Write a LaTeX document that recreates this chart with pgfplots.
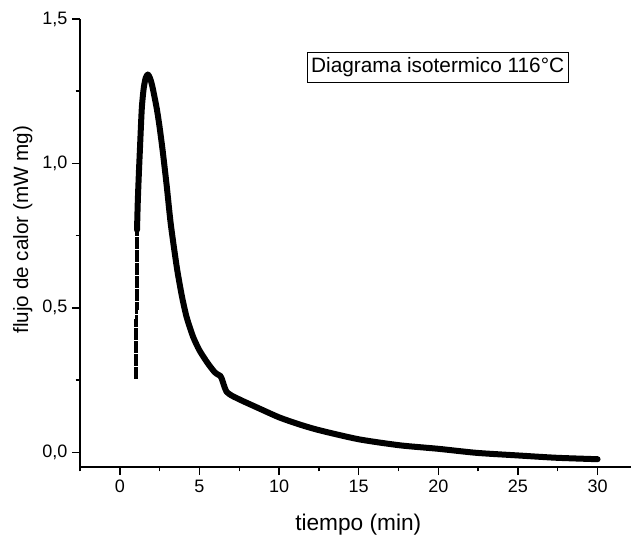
\documentclass[border=0pt]{standalone}
\usepackage{fontspec}
\setmainfont{Liberation Sans}
\usepackage{pgfplots}
\pgfplotsset{compat=1.18}
\begin{document}
\begin{tikzpicture}
\begin{axis}[
  scale only axis,
  width=413.25pt, height=336pt,
  xmin=-2.5, xmax=32.1, ymin=-0.051, ymax=1.5,
  axis lines=left,
  axis line style={-, line width=1.1pt},
  every tick/.style={black, line width=1.1pt},
  tick align=outside,
  major tick length=6pt, minor tick length=3.2pt,
  xtick={0,5,...,30},
  minor xtick={-2.5,2.5,...,32.5},
  ytick={0,0.5,1,1.5},
  yticklabels={0{,}0,0{,}5,1{,}0,1{,}5},
  minor ytick={0.25,0.75,1.25},
  /pgf/number format/assume math mode=true,
  tick label style={font=\fontsize{13.5}{16}\selectfont},
  xlabel={tiempo (min)},
  ylabel={flujo de calor (mW mg)},
  xlabel style={font=\fontsize{17}{20}\selectfont, at={(axis description cs:0.505,-0.128)}, anchor=center},
  ylabel style={font=\fontsize{15.5}{18}\selectfont, at={(axis description cs:-0.104,0.53)}, anchor=center},
  clip=false,
]
\coordinate (sw) at (rel axis cs:0,0);
\addplot[only marks, mark=square*, mark size=1.1pt, black] coordinates {
(1.000,0.260) (1.002,0.275) (1.005,0.290) (1.007,0.305) (1.009,0.320)
(1.012,0.335) (1.014,0.350) (1.016,0.365) (1.019,0.380) (1.021,0.395)
(1.024,0.410) (1.026,0.425) (1.028,0.440) (1.031,0.455) (1.033,0.470)
(1.035,0.485) (1.038,0.500) (1.040,0.515) (1.042,0.530) (1.045,0.545)
(1.047,0.560) (1.049,0.575) (1.052,0.590) (1.054,0.605) (1.057,0.620)
(1.059,0.635) (1.061,0.650) (1.064,0.665) (1.066,0.680) (1.068,0.695)
(1.071,0.710) (1.073,0.725) (1.075,0.740) (1.078,0.755) (1.080,0.770)
};
\addplot[black, line width=4.5pt, line join=round, line cap=round, smooth, tension=0.4] coordinates {
(1.08,0.77) (1.13,0.87) (1.2,0.97) (1.26,1.045) (1.38,1.19) (1.5,1.26)
(1.62,1.295) (1.76,1.308) (1.9,1.295) (2.05,1.265) (2.32,1.19) (2.5,1.125)
(2.7,1.04) (2.95,0.92) (3.2,0.79) (3.58,0.64) (3.9,0.54) (4.2,0.467)
(4.6,0.40) (5.0,0.353) (5.5,0.31) (5.96,0.277) (6.2,0.268) (6.3,0.265)
(6.4,0.255) (6.55,0.23) (6.7,0.21) (7.0,0.197) (7.7,0.178) (8.5,0.158)
(10.0,0.121) (11.3,0.096) (12.55,0.076) (15.0,0.045) (17.6,0.024)
(20.0,0.012) (22.4,-0.002) (25.0,-0.011) (27.4,-0.019) (30.0,-0.024)
};
\node[draw, line width=0.6pt, inner xsep=3pt, inner ysep=4pt, font=\fontsize{15.6}{18}\selectfont] at (axis cs:19.96,1.332) {Diagrama isotermico 116°C};
\end{axis}
\pgfresetboundingbox
\path[use as bounding box] (sw) ++(-60pt,-57pt) rectangle ++(473.25pt,407.25pt);
\end{tikzpicture}
\end{document}
